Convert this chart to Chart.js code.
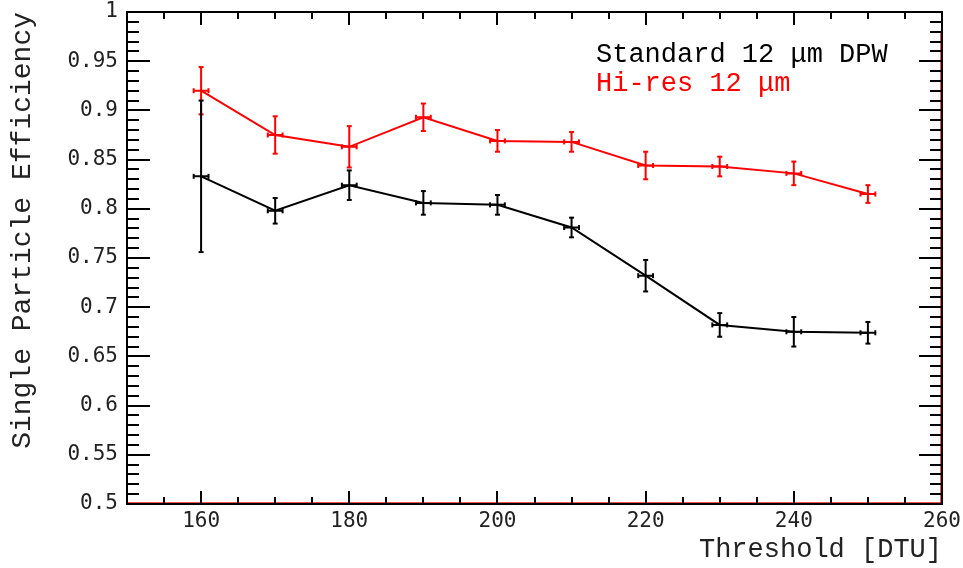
<!DOCTYPE html>
<html>
<head>
<meta charset="utf-8">
<title>Single Particle Efficiency vs Threshold</title>
<script src="https://cdn.jsdelivr.net/npm/chart.js@4.4.0/dist/chart.umd.min.js"></script>
<style>
  html, body { margin: 0; padding: 0; background: #fff; }
  #wrap { width: 963px; height: 568px; }
</style>
</head>
<body>
<div id="wrap"><canvas id="eff-chart" width="963" height="568"></canvas></div>
<script>
// threshold scan points [DTU]
const thresholds = [160, 170, 180, 190, 200, 210, 220, 230, 240, 250];
const thresholdErr = 1; // half width of the horizontal error bars

// Standard 12 um DPW
const stdEff = [0.833, 0.798, 0.824, 0.806, 0.804, 0.781, 0.732, 0.682, 0.675, 0.674];
const stdErr = [0.077, 0.013, 0.015, 0.012, 0.010, 0.010, 0.016, 0.012, 0.015, 0.011];

// Hi-res 12 um
const hiresEff = [0.920, 0.875, 0.863, 0.893, 0.869, 0.868, 0.844, 0.843, 0.836, 0.815];
const hiresErr = [0.024, 0.019, 0.021, 0.014, 0.011, 0.010, 0.014, 0.010, 0.012, 0.009];

// tick labels
const xTickLabels = [160, 180, 200, 220, 240, 260];
const yTickLabels = [0.5, 0.55, 0.6, 0.65, 0.7, 0.75, 0.8, 0.85, 0.9, 0.95, 1];

const legendLabels = ['Standard 12 \u03bcm DPW', 'Hi-res 12 \u03bcm'];
const seriesColors = ['#000000', '#ff0000'];

const tickFont = { family: 'DejaVu Sans Mono', size: 21 };
const titleFont = { family: 'Liberation Mono', size: 27 };

// build error bars as line segments separated by gaps
function verticalBars(vals, errs) {
    let pts = [];
    for (let i = 0; i < thresholds.length; i++) {
        pts.push({ x: thresholds[i], y: vals[i] - errs[i] });
        pts.push({ x: thresholds[i], y: vals[i] + errs[i] });
        pts.push({ x: thresholds[i], y: null });
    }
    return pts;
}

function horizontalBars(vals) {
    let pts = [];
    for (let i = 0; i < thresholds.length; i++) {
        pts.push({ x: thresholds[i] - thresholdErr, y: vals[i] });
        pts.push({ x: thresholds[i] + thresholdErr, y: vals[i] });
        pts.push({ x: thresholds[i], y: null });
    }
    return pts;
}

function mainLine(label, vals, color) {
    return {
        label: label,
        data: thresholds.map((t, i) => ({ x: t, y: vals[i] })),
        borderColor: color,
        borderWidth: 2,
        pointRadius: 0,
        fill: false,
        tension: 0
    };
}

function errorSet(data, color, rotation) {
    return {
        data: data,
        borderColor: color,
        borderWidth: 2,
        pointStyle: 'line',
        pointRotation: rotation,
        pointRadius: 2.5,
        pointBorderWidth: 2,
        pointBorderColor: color,
        spanGaps: false,
        fill: false
    };
}

// ROOT style frame: box, inward ticks on all four sides, thin red edge
const rootFrame = {
    id: 'rootFrame',
    afterDraw(chart) {
        const ctx = chart.ctx;
        const a = chart.chartArea;
        const x = chart.scales.x;
        const y = chart.scales.y;
        ctx.save();
        ctx.strokeStyle = 'rgba(255, 0, 0, 0.7)';
        ctx.lineWidth = 1;
        ctx.beginPath();
        ctx.moveTo(a.left, a.bottom - 1.5);
        ctx.lineTo(a.right, a.bottom - 1.5);
        ctx.moveTo(a.right - 1.5, a.top + 20);
        ctx.lineTo(a.right - 1.5, a.bottom);
        ctx.stroke();

        ctx.strokeStyle = '#000';
        ctx.lineWidth = 2;
        ctx.strokeRect(a.left, a.top, a.right - a.left, a.bottom - a.top);
        ctx.beginPath();
        // y ticks every 0.01, major every 0.05
        for (let v = 50; v <= 100; v++) {
            const py = Math.round(y.getPixelForValue(v / 100));
            const len = v % 5 === 0 ? 23 : 12;
            ctx.moveTo(a.left, py); ctx.lineTo(a.left + len, py);
            ctx.moveTo(a.right, py); ctx.lineTo(a.right - len, py);
        }
        // x ticks every 5, major every 20
        for (let v = 150; v <= 260; v += 5) {
            const px = Math.round(x.getPixelForValue(v));
            const len = v % 20 === 0 ? 13 : 7;
            ctx.moveTo(px, a.bottom); ctx.lineTo(px, a.bottom - len);
            ctx.moveTo(px, a.top); ctx.lineTo(px, a.top + len);
        }
        ctx.stroke();

        // legend text (no markers, like the original)
        ctx.font = titleFont.size + 'px "' + titleFont.family + '"';
        ctx.textBaseline = 'middle';
        ctx.textAlign = 'left';
        for (let i = 0; i < legendLabels.length; i++) {
            ctx.fillStyle = seriesColors[i];
            ctx.fillText(legendLabels[i], a.left + 469, a.top + 43 + i * 29);
        }
        ctx.restore();
    }
};

const effChart = new Chart(document.getElementById('eff-chart').getContext('2d'), {
    type: 'line',
    data: {
        datasets: [
            mainLine(legendLabels[0], stdEff, seriesColors[0]),
            errorSet(verticalBars(stdEff, stdErr), seriesColors[0], 0),
            errorSet(horizontalBars(stdEff), seriesColors[0], 90),
            mainLine(legendLabels[1], hiresEff, seriesColors[1]),
            errorSet(verticalBars(hiresEff, hiresErr), seriesColors[1], 0),
            errorSet(horizontalBars(hiresEff), seriesColors[1], 90)
        ]
    },
    options: {
        responsive: false,
        devicePixelRatio: 1,
        animation: false,
        events: [],
        layout: { padding: { top: 12, right: 21, left: 0, bottom: 0 } },
        plugins: {
            legend: { display: false },
            tooltip: { enabled: false }
        },
        scales: {
            x: {
                type: 'linear',
                min: 150,
                max: 260,
                grid: { display: false, drawTicks: false },
                border: { display: false },
                afterBuildTicks: (s) => { s.ticks = xTickLabels.map(v => ({ value: v })); },
                afterFit: (s) => { s.height = 64; s.paddingLeft = 0; s.paddingRight = 0; },
                ticks: {
                    autoSkip: false,
                    maxRotation: 0,
                    padding: 5,
                    color: '#222',
                    font: tickFont
                },
                title: {
                    display: true,
                    text: 'Threshold [DTU]',
                    align: 'end',
                    color: '#222',
                    font: titleFont,
                    padding: { top: 0, bottom: 2 }
                }
            },
            y: {
                type: 'linear',
                min: 0.5,
                max: 1,
                grid: { display: false, drawTicks: false },
                border: { display: false },
                afterBuildTicks: (s) => { s.ticks = yTickLabels.map(v => ({ value: v })); },
                afterFit: (s) => { s.width = 127; s.paddingTop = 0; s.paddingBottom = 0; },
                ticks: {
                    autoSkip: false,
                    padding: 9,
                    color: '#222',
                    font: tickFont,
                    callback: (value) => String(parseFloat(value.toFixed(2)))
                },
                title: {
                    display: true,
                    text: 'Single Particle Efficiency',
                    align: 'end',
                    color: '#222',
                    font: { family: 'Liberation Mono', size: 28 },
                    padding: { top: 6, bottom: 0 }
                }
            }
        }
    },
    plugins: [rootFrame]
});
</script>
</body>
</html>
